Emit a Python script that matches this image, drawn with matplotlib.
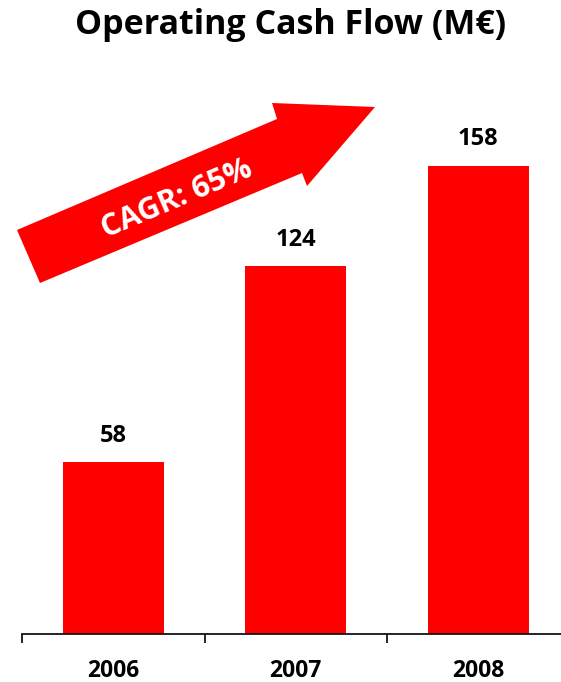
import matplotlib
matplotlib.use("Agg")
import matplotlib.pyplot as plt
from matplotlib.patches import Polygon

# Dados do gráfico
anos = ["2006", "2007", "2008"]
valores = [58, 124, 158]
titulo = "Operating Cash Flow (M€)"
cagr = "CAGR: 65%"

VERMELHO = "#ff0000"
W, H = 561, 682

plt.rcParams["font.family"] = ["Open Sans", "DejaVu Sans"]
plt.rcParams["font.weight"] = "bold"

fig = plt.figure(figsize=(W / 100, H / 100), dpi=100)

# eixo: base em y=634 px, topo em y=90 px
ax = fig.add_axes([22 / W, 48 / H, 539 / W, 544 / H])
x = list(range(len(anos)))
ax.bar(x, valores, width=0.553, color=VERMELHO)
ax.set_xlim(-0.5, -0.5 + 539 / 182.5)
ax.set_ylim(0, 544 / 2.965)

for xi, v in zip(x, valores):
    ax.annotate(str(v), (xi, v), xytext=(0, 19), textcoords="offset points",
                ha="center", va="center", fontsize=17, fontweight="bold")

for s in ("top", "right", "left"):
    ax.spines[s].set_visible(False)
ax.spines["bottom"].set_linewidth(1.2)
ax.set_yticks([])
ax.set_xticks([-0.5, 0.5, 1.5])
ax.set_xticklabels([])
ax.tick_params(axis="x", which="major", length=6.5, width=1.2, direction="out")
ax.set_xticks(x, minor=True)
ax.set_xticklabels(anos, minor=True, fontsize=16.5, fontweight="bold")
ax.tick_params(axis="x", which="minor", length=0, pad=18)

# seta de crescimento (em pixels da figura, origem no topo)
pts = [(17, 230), (277, 119), (272, 103), (375, 107), (307, 186), (302, 173), (40, 283)]
seta = Polygon([(px / W, 1 - py / H) for px, py in pts], closed=True,
               facecolor=VERMELHO, edgecolor="none", transform=fig.transFigure)
fig.patches.append(seta)
fig.text(177 / W, 1 - 199 / H, cagr, color="white", fontsize=22, fontweight="bold",
         rotation=23, ha="center", va="center", rotation_mode="anchor")

fig.text(291 / W, 1 - 25 / H, titulo, ha="center", va="center",
         fontsize=24.5, fontweight="bold")

fig.savefig("out.png", dpi=100)
